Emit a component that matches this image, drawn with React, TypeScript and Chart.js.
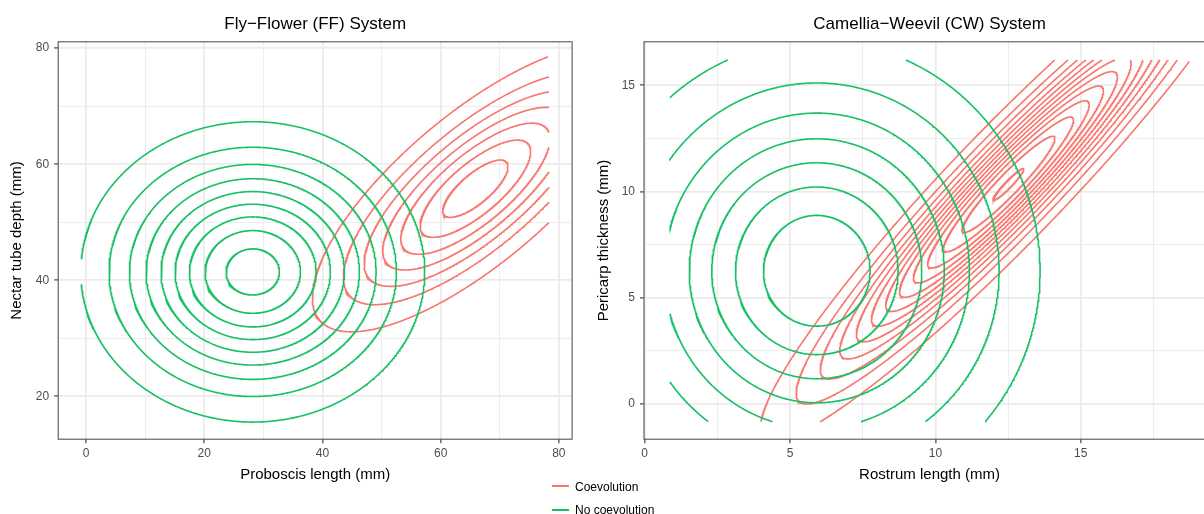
import React, { useEffect, useRef } from 'react';
import { Chart, registerables } from 'chart.js';

Chart.register(...registerables);

const FONT = '"Liberation Sans", Arial, Helvetica, sans-serif';
const RED = '#F8766D';
const GREEN = '#17C064';
const GRID = '#EBEBEB';
const FRAME = '#555555';
const TICK_TEXT = '#4D4D4D';

const groupNames = ['Coevolution', 'No coevolution'];

// ---- Fly–Flower (FF) panel ----
const ffTitle = 'Fly−Flower (FF) System';
const ffXLabel = 'Proboscis length (mm)';
const ffYLabel = 'Nectar tube depth (mm)';
const ffXRange = [-4.72, 82.24];
const ffYRange = [12.59, 81.1];
const ffXMajor = [0, 20, 40, 60, 80];
const ffXMinor = [10, 30, 50, 70];
const ffYMajor = [20, 40, 60, 80];
const ffYMinor = [30, 50, 70];
// extent of the density grid (contours stop at its edges)
const ffGridX = [-0.8, 78.3];
const ffGridY = [15.4, 78.5];
// density contours, one entry per level: centre, half extent in x and y, x–y correlation
const ffNoCoCenter = [28.2, 41.43];
const ffNoCoHalfX = [4.51, 8.07, 10.72, 13.14, 15.51, 18.05, 20.87, 24.31, 29.1];
const ffNoCoHalfY = [3.97, 7.13, 9.48, 11.67, 13.85, 16.06, 18.53, 21.49, 25.89];
const ffNoCoCorr = 0;
const ffCoCenter = [65.87, 55.78];
const ffCoHalfX = [5.52, 9.36, 12.62, 15.67, 18.83, 22.34, 27.58];
const ffCoHalfY = [4.94, 8.38, 11.3, 14.02, 16.85, 20.0, 24.68];
const ffCoCorr = 0.76;

// ---- Camellia–Weevil (CW) panel ----
const cwTitle = 'Camellia−Weevil (CW) System';
const cwXLabel = 'Rostrum length (mm)';
const cwYLabel = 'Pericarp thickness (mm)';
const cwXRange = [-0.023, 19.62];
const cwYRange = [-1.677, 17.05];
const cwXMajor = [0, 5, 10, 15];
const cwXMinor = [2.5, 7.5, 12.5, 17.5];
const cwYMajor = [0, 5, 10, 15];
const cwYMinor = [2.5, 7.5, 12.5];
const cwGridX = [0.87, 18.73];
const cwGridY = [-0.85, 16.19];
const cwNoCoCenter = [5.92, 6.26];
const cwNoCoHalfX = [1.834, 2.797, 3.612, 4.386, 5.249, 6.271, 7.681];
const cwNoCoHalfY = [2.61, 3.95, 5.09, 6.22, 7.43, 8.85, 10.83];
const cwNoCoCorr = 0;
const cwCoCenter = [12.51, 10.33];
const cwCoHalfX = [0.53, 1.6, 2.24, 2.78, 3.27, 3.75, 4.22, 4.71, 5.23, 5.8, 6.47, 7.3, 8.54];
const cwCoHalfY = [0.752, 2.269, 3.176, 3.942, 4.637, 5.318, 5.984, 6.679, 7.416, 8.224, 9.174, 10.351, 12.11];
const cwCoCorr = 0.95;

type Pt = { x: number; y: number };

// Trace one contour ellipse and cut it where it leaves the density grid.
function ellipsePieces(
  cx: number, cy: number, hx: number, hy: number, corr: number,
  gx: number[], gy: number[], n = 900
): Pt[][] {
  const s = Math.sqrt(1 - corr * corr);
  const pts: Pt[] = [];
  for (let i = 0; i < n; i++) {
    const t = (i / n) * Math.PI * 2;
    const u = Math.cos(t);
    const v = Math.sin(t);
    pts.push({ x: cx + hx * u, y: cy + hy * (corr * u + s * v) });
  }
  const inside = (p: Pt) => p.x >= gx[0] && p.x <= gx[1] && p.y >= gy[0] && p.y <= gy[1];
  const edge = (a: Pt, b: Pt): Pt => {
    // a inside, b outside: find the boundary crossing
    let lo = 0, hi = 1;
    for (let k = 0; k < 30; k++) {
      const m = (lo + hi) / 2;
      const p = { x: a.x + (b.x - a.x) * m, y: a.y + (b.y - a.y) * m };
      if (inside(p)) lo = m; else hi = m;
    }
    return { x: a.x + (b.x - a.x) * lo, y: a.y + (b.y - a.y) * lo };
  };
  const start = pts.findIndex((p) => !inside(p));
  if (start < 0) return [[...pts, pts[0]]];
  const pieces: Pt[][] = [];
  let cur: Pt[] | null = null;
  for (let k = 1; k <= n; k++) {
    const prev = pts[(start + k - 1) % n];
    const p = pts[(start + k) % n];
    if (inside(p)) {
      if (!cur) cur = [edge(p, prev)];
      cur.push(p);
    } else if (cur) {
      cur.push(edge(prev, p));
      pieces.push(cur);
      cur = null;
    }
  }
  if (cur) pieces.push(cur);
  return pieces;
}

function contourDatasets(
  center: number[], halfX: number[], halfY: number[], corr: number,
  gx: number[], gy: number[], color: string
) {
  const out: any[] = [];
  halfX.forEach((h, i) => {
    ellipsePieces(center[0], center[1], h, halfY[i], corr, gx, gy).forEach((piece) => {
      out.push({
        data: piece,
        showLine: true,
        borderColor: color,
        borderWidth: 1.6,
        pointRadius: 0,
        pointHoverRadius: 0,
        fill: false,
        tension: 0,
      });
    });
  });
  return out;
}

function axisOptions(
  range: number[], major: number[], minor: number[], title: string,
  horizontal: boolean, size: number, titlePad: number
) {
  const all = [...major, ...minor].sort((a, b) => a - b);
  const isMajor = (v: any) => major.includes(v);
  return {
    type: 'linear',
    min: range[0],
    max: range[1],
    afterBuildTicks: (s: any) => {
      s.ticks = all.map((v) => ({ value: v }));
    },
    afterFit: (s: any) => {
      if (horizontal) s.height = size;
      else s.width = size;
    },
    border: { display: false },
    grid: {
      color: GRID,
      lineWidth: (c: any) => (isMajor(c.tick && c.tick.value) ? 1.8 : 0.9),
      drawTicks: true,
      tickLength: 4,
      tickWidth: 1.1,
      tickColor: (c: any) => (isMajor(c.tick && c.tick.value) ? '#333333' : 'rgba(0,0,0,0)'),
    },
    ticks: {
      autoSkip: false,
      maxRotation: 0,
      padding: horizontal ? 3.5 : 5,
      color: TICK_TEXT,
      font: { family: FONT, size: 12 },
      callback: (v: any) => (isMajor(v) ? String(v) : ''),
    },
    title: {
      display: true,
      text: title,
      color: '#000000',
      font: { family: FONT, size: 15 },
      padding: horizontal ? { top: 0, bottom: 5.8 } : { top: titlePad, bottom: 0 },
    },
  };
}

const panelFrame = {
  id: 'panelFrame',
  afterDraw(chart: any, _args: any, opts: any) {
    const { ctx, chartArea: a } = chart;
    ctx.save();
    ctx.strokeStyle = FRAME;
    ctx.lineWidth = 1.1;
    ctx.strokeRect(a.left, a.top, a.right - a.left, a.bottom - a.top);
    ctx.fillStyle = '#000000';
    ctx.font = `17px ${FONT}`;
    ctx.textAlign = 'center';
    ctx.textBaseline = 'alphabetic';
    ctx.fillText(opts.text, (a.left + a.right) / 2 + (opts.shift || 0), opts.baseline);
    ctx.restore();
  },
};

type PanelProps = {
  left: number;
  width: number;
  yAxisWidth: number;
  rightPad: number;
  yTitlePad: number;
  title: string;
  xLabel: string;
  yLabel: string;
  xRange: number[];
  yRange: number[];
  xMajor: number[];
  xMinor: number[];
  yMajor: number[];
  yMinor: number[];
  datasets: any[];
};

const HEIGHT = 514;
const PLOT_TOP = 41.8;
const PLOT_BOTTOM = 439.2;
const X_AXIS_HEIGHT = 50;

function Panel(p: PanelProps) {
  const ref = useRef<HTMLCanvasElement>(null);
  useEffect(() => {
    const chart = new Chart(ref.current as HTMLCanvasElement, {
      type: 'scatter',
      data: { datasets: p.datasets },
      plugins: [panelFrame],
      options: {
        animation: false,
        responsive: false,
        maintainAspectRatio: false,
        events: [],
        layout: {
          padding: {
            left: 0,
            right: p.rightPad,
            top: PLOT_TOP,
            bottom: HEIGHT - PLOT_BOTTOM - X_AXIS_HEIGHT,
          },
        },
        plugins: {
          legend: { display: false },
          tooltip: { enabled: false },
          panelFrame: { text: p.title, baseline: 29.3 },
        } as any,
        scales: {
          x: axisOptions(p.xRange, p.xMajor, p.xMinor, p.xLabel, true, X_AXIS_HEIGHT, 0) as any,
          y: axisOptions(p.yRange, p.yMajor, p.yMinor, p.yLabel, false, p.yAxisWidth, p.yTitlePad) as any,
        },
      },
    });
    return () => chart.destroy();
  }, []);
  return (
    <canvas
      ref={ref}
      width={p.width}
      height={HEIGHT}
      style={{ position: 'absolute', left: p.left, top: 0, width: p.width, height: HEIGHT }}
    />
  );
}

export default function App() {
  const ffData = [
    ...contourDatasets(ffNoCoCenter, ffNoCoHalfX, ffNoCoHalfY, ffNoCoCorr, ffGridX, ffGridY, GREEN),
    ...contourDatasets(ffCoCenter, ffCoHalfX, ffCoHalfY, ffCoCorr, ffGridX, ffGridY, RED),
  ];
  const cwData = [
    ...contourDatasets(cwNoCoCenter, cwNoCoHalfX, cwNoCoHalfY, cwNoCoCorr, cwGridX, cwGridY, GREEN),
    ...contourDatasets(cwCoCenter, cwCoHalfX, cwCoHalfY, cwCoCorr, cwGridX, cwGridY, RED),
  ];
  const legendRows = [
    { name: groupNames[0], color: RED, y: 486.5 },
    { name: groupNames[1], color: GREEN, y: 510 },
  ];
  return (
    <div
      style={{
        position: 'fixed',
        left: 0,
        top: 0,
        width: 1204,
        height: HEIGHT,
        overflow: 'hidden',
        background: '#ffffff',
      }}
    >
      <Panel
        left={0}
        width={600}
        yAxisWidth={58.2}
        rightPad={600 - 572.1}
        yTitlePad={8}
        title={ffTitle}
        xLabel={ffXLabel}
        yLabel={ffYLabel}
        xRange={ffXRange}
        yRange={ffYRange}
        xMajor={ffXMajor}
        xMinor={ffXMinor}
        yMajor={ffYMajor}
        yMinor={ffYMinor}
        datasets={ffData}
      />
      <Panel
        left={585}
        width={660}
        yAxisWidth={59}
        rightPad={660 - (1215.1 - 585)}
        yTitlePad={10}
        title={cwTitle}
        xLabel={cwXLabel}
        yLabel={cwYLabel}
        xRange={cwXRange}
        yRange={cwYRange}
        xMajor={cwXMajor}
        xMinor={cwXMinor}
        yMajor={cwYMajor}
        yMinor={cwYMinor}
        datasets={cwData}
      />
      {legendRows.map((r) => (
        <React.Fragment key={r.name}>
          <div
            style={{
              position: 'absolute',
              left: 552,
              top: Math.floor(r.y) - 1,
              width: 17,
              height: 2,
              background: r.color,
            }}
          />
          <div
            style={{
              position: 'absolute',
              left: 575,
              top: r.y - 7,
              height: 14,
              lineHeight: '14px',
              font: `12px ${FONT}`,
              color: '#000000',
              whiteSpace: 'nowrap',
            }}
          >
            {r.name}
          </div>
        </React.Fragment>
      ))}
    </div>
  );
}
